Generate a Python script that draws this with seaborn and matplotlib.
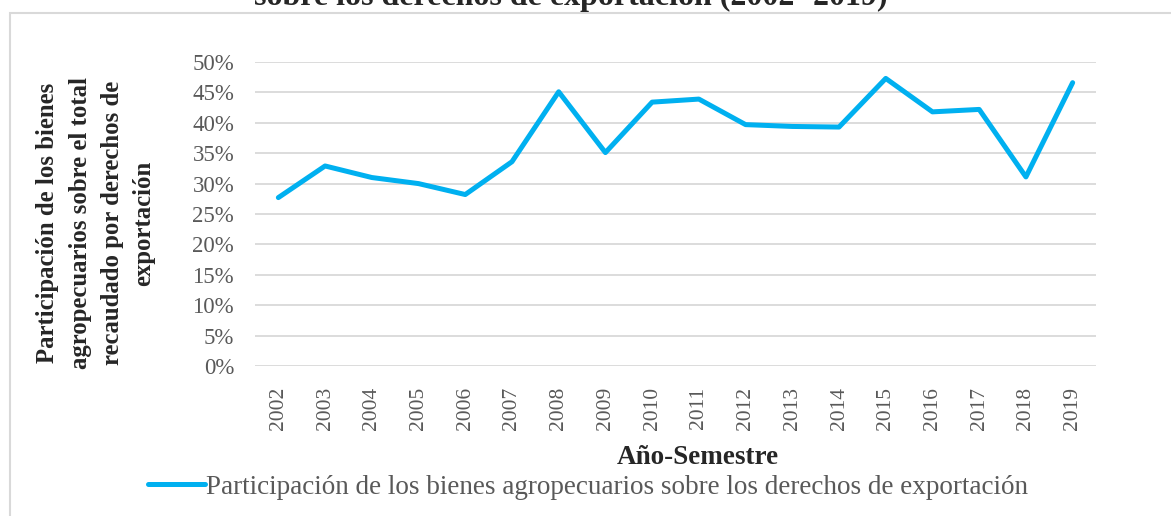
import matplotlib
matplotlib.use("Agg")
import matplotlib.pyplot as plt
import matplotlib.patches as mpatches
from matplotlib.ticker import PercentFormatter
import pandas as pd
import seaborn as sns

# data
years = ["2002", "2003", "2004", "2005", "2006", "2007", "2008", "2009", "2010",
         "2011", "2012", "2013", "2014", "2015", "2016", "2017", "2018", "2019"]
share = [0.277, 0.329, 0.310, 0.300, 0.282, 0.336, 0.451, 0.351, 0.434,
         0.439, 0.397, 0.394, 0.393, 0.473, 0.418, 0.422, 0.311, 0.466]
yticks = [0, 0.05, 0.10, 0.15, 0.20, 0.25, 0.30, 0.35, 0.40, 0.45, 0.50]

serie = "Participación de los bienes agropecuarios sobre los derechos de exportación"
df = pd.DataFrame({"Año": years, "Participación": share})

sns.set_style("white")
plt.rcParams["font.family"] = ["Liberation Serif", "DejaVu Serif"]

fig = plt.figure(figsize=(11.71, 5.16), dpi=100)
ax = fig.add_axes([255 / 1171, 1 - 366 / 516, (1096 - 255) / 1171, (366 - 62) / 516])

sns.lineplot(data=df, x="Año", y="Participación", color="#00B0F0", linewidth=3.6,
             sort=False, ax=ax, label=serie)

ax.set_xlim(-0.5, len(years) - 0.5)
ax.set_ylim(0, 0.5)
ax.set_yticks(yticks)
ax.yaxis.set_major_formatter(PercentFormatter(1.0, decimals=0))
ax.grid(axis="y", color="#D9D9D9", linewidth=1.3)
ax.grid(axis="x", visible=False)
for s in ax.spines.values():
    s.set_visible(False)
ax.tick_params(axis="y", length=0, pad=15, labelsize=16.5, labelcolor="#595959")
ax.tick_params(axis="x", length=0, pad=15, labelsize=15.5, labelcolor="#595959",
               labelrotation=90)
ax.set_xlabel("")
ax.set_ylabel("")

# axis titles
fig.text(698 / 1171, 1 - 457 / 516, "Año-Semestre", ha="center", va="center",
         fontsize=19.5, fontweight="bold")
fig.text(96 / 1171, 1 - 223 / 516,
         "Participación de los bienes\nagropecuarios sobre el total\nrecaudado por derechos de\nexportación",
         rotation=90, ha="center", va="center", fontsize=17.8, fontweight="bold",
         linespacing=1.5, multialignment="center")

# title, cut off by the top edge as in the source
fig.text(571 / 1171, 1 - 4.5 / 516, "sobre los derechos de exportación (2002- 2019)",
         ha="center", va="baseline", fontsize=23, fontweight="bold")

leg = ax.legend(loc="center", bbox_to_anchor=(588 / 1171, 1 - 487 / 516),
                bbox_transform=fig.transFigure, frameon=False, fontsize=19.5,
                handlelength=2.1, handletextpad=0.05, borderaxespad=0)
for t in leg.get_texts():
    t.set_color("#595959")

# outer chart frame
fig.patches.append(mpatches.Rectangle((10 / 1171, -0.1), 1.2, 1.1 - 13 / 516,
                                      transform=fig.transFigure, fill=False,
                                      edgecolor="#D9D9D9", linewidth=1.5))

fig.savefig("out.png", dpi=100)
